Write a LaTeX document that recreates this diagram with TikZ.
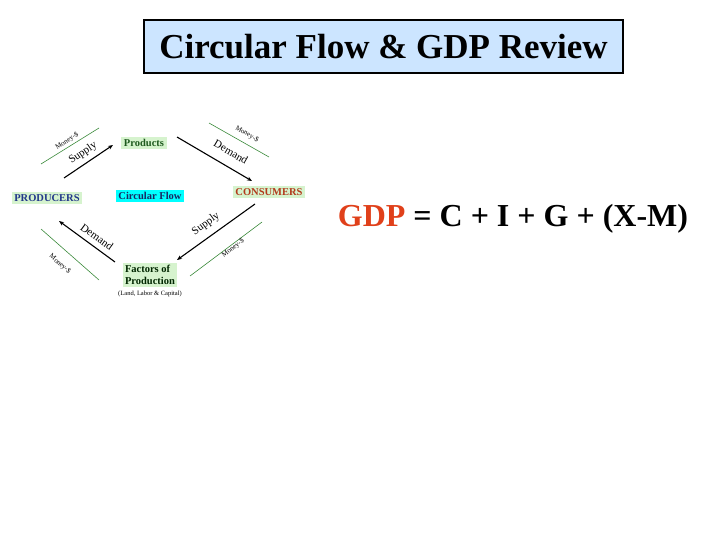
\documentclass[tikz,border=0pt]{standalone}
\usepackage{fontspec}
\setmainfont{Liberation Serif}
\usetikzlibrary{arrows.meta}

\definecolor{titlefill}{HTML}{CCE5FF}
\definecolor{boxgreen}{HTML}{D6F3CE}
\definecolor{flowcyan}{HTML}{00FFFF}
\definecolor{prodgreen}{HTML}{1F5A1F}
\definecolor{prodblue}{HTML}{22378A}
\definecolor{consred}{HTML}{B23A1C}
\definecolor{moneygreen}{HTML}{3A8A3A}
\definecolor{gdpred}{HTML}{E0401A}

\tikzset{
  sector/.style={fill=boxgreen, font=\bfseries\fontsize{10.5}{12}\selectfont, inner sep=2.5pt},
  flow/.style={line width=1.1pt, -{Stealth[length=5pt,width=4pt]}},
  money/.style={moneygreen, line width=0.6pt},
  flowlabel/.style={font=\fontsize{11}{12}\selectfont, inner sep=0pt},
  moneylabel/.style={font=\fontsize{7}{8}\selectfont, inner sep=0pt},
}

\begin{document}
\begin{tikzpicture}[x=1pt, y=-1pt]
    \useasboundingbox (0,0) rectangle (720,540);

    % Titolo
    \node[draw, line width=1.4pt, fill=titlefill, minimum width=479pt, minimum height=53pt,
          font=\bfseries\fontsize{35}{38}\selectfont] (title) at (383.5,46.5) {Circular Flow \& GDP Review};

    % Settori del flusso circolare
    \node[sector, text=prodgreen] (products) at (144,143) {Products};
    \node[sector, text=prodblue] (producers) at (47,198) {PRODUCERS};
    \node[sector, fill=flowcyan, text=prodblue!70!black] (circflow) at (150,196) {Circular Flow};
    \node[sector, text=consred] (consumers) at (269,192) {CONSUMERS};
    \node[sector, text=black!85!green, align=left] (factors) at (150,275) {Factors of\\Production};
    \node[font=\fontsize{6.5}{7}\selectfont, inner sep=0pt] (inputs) at (150,294) {(Land, Labor \& Capital)};

    % Estremi delle frecce
    \coordinate (supA) at (64,178);   \coordinate (supB) at (113,145);
    \coordinate (demA) at (177,137);  \coordinate (demB) at (252,181);
    \coordinate (supC) at (255,204);  \coordinate (supD) at (177,260);
    \coordinate (demC) at (115,262);  \coordinate (demD) at (59,221);

    % Flussi reali (frecce nere)
    \draw[flow] (supA) -- (supB);
    \draw[flow] (demA) -- (demB);
    \draw[flow] (supC) -- (supD);
    \draw[flow] (demC) -- (demD);

    \node[flowlabel, rotate=34] (supplyA) at (83,153) {Supply};
    \node[flowlabel, rotate=-30] (demandA) at (231,152) {Demand};
    \node[flowlabel, rotate=36] (supplyB) at (206,224) {Supply};
    \node[flowlabel, rotate=-36] (demandB) at (97,237) {Demand};

    % Flussi monetari (linee verdi)
    \coordinate (monA) at (41,164);   \coordinate (monB) at (99,128);
    \coordinate (monC) at (209,123);  \coordinate (monD) at (269,157);
    \coordinate (monE) at (41,229);   \coordinate (monF) at (99,280);
    \coordinate (monG) at (190,276);  \coordinate (monH) at (262,222);

    \draw[money] (monA) -- (monB);
    \draw[money] (monC) -- (monD);
    \draw[money] (monE) -- (monF);
    \draw[money] (monG) -- (monH);

    \node[moneylabel, rotate=32] (moneyA) at (67,141) {Money-\$};
    \node[moneylabel, rotate=-30] (moneyB) at (247,134) {Money-\$};
    \node[moneylabel, rotate=-41] (moneyC) at (60,264) {Money-\$};
    \node[moneylabel, rotate=37] (moneyD) at (233,248) {Money-\$};

    % Equazione del PIL
    \node[font=\bfseries\fontsize{32}{36}\selectfont, inner sep=0pt] (gdp) at (513,219)
        {\textcolor{gdpred}{GDP} = C + I + G + (X-M)};
\end{tikzpicture}
\end{document}
